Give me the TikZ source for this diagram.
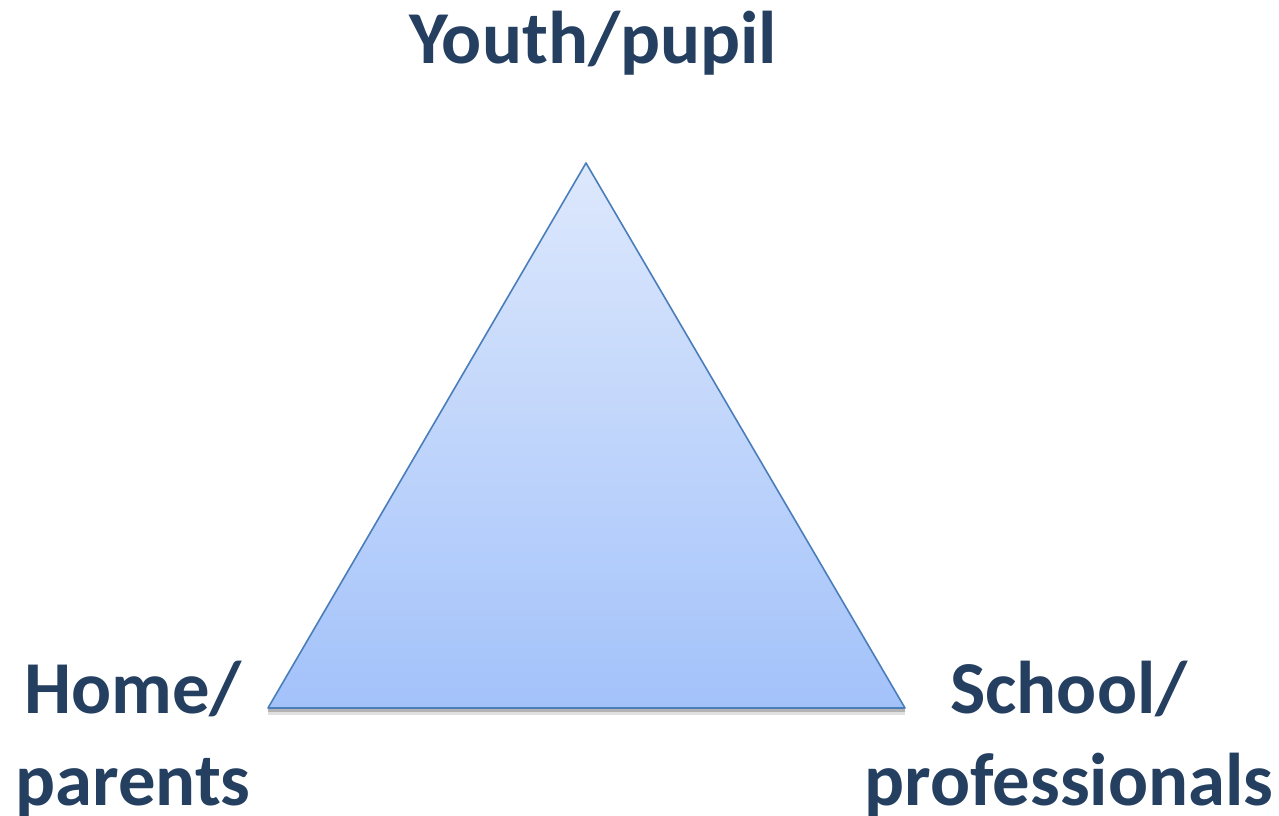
\documentclass[tikz,border=0pt]{standalone}
\usepackage{fontspec}
\setmainfont{Carlito}
\definecolor{labelblue}{HTML}{243F60}
\definecolor{edgeblue}{HTML}{4A7EBB}
\definecolor{topblue}{HTML}{DDE8FC}
\definecolor{bottomblue}{HTML}{A3C2FA}
\tikzset{
  corner/.style={text=labelblue, font=\bfseries\fontsize{56}{69}\selectfont, align=center, anchor=base, inner sep=0pt},
}
\begin{document}
\begin{tikzpicture}[x=0.75pt, y=-0.75pt]
  \useasboundingbox (0,0) rectangle (1279,815);
  % the triangle
  \coordinate (Apex)  at (586,163);
  \coordinate (Left)  at (268,708);
  \coordinate (Right) at (905,708);
  \fill[black, opacity=0.12] ([yshift=-5pt]Left) -- ([yshift=-5pt]Right) -- ([yshift=-1pt]Right) -- ([yshift=-1pt]Left) -- cycle;
  \fill[black, opacity=0.2] ([yshift=-3pt]Left) -- ([yshift=-3pt]Right) -- ([yshift=-1pt]Right) -- ([yshift=-1pt]Left) -- cycle;
  \shade[top color=topblue, bottom color=bottomblue, draw=edgeblue, line width=1.2pt, line join=round]
    (Apex) -- (Right) -- (Left) -- cycle;
  % labels
  \node[corner] (Youth)  at (593,63) {Youth/pupil};
  \node[corner] (Home)   at (133,805) {Home/\\parents};
  \node[corner] (School) at (1069,805) {School/\\professionals};
\end{tikzpicture}
\end{document}
